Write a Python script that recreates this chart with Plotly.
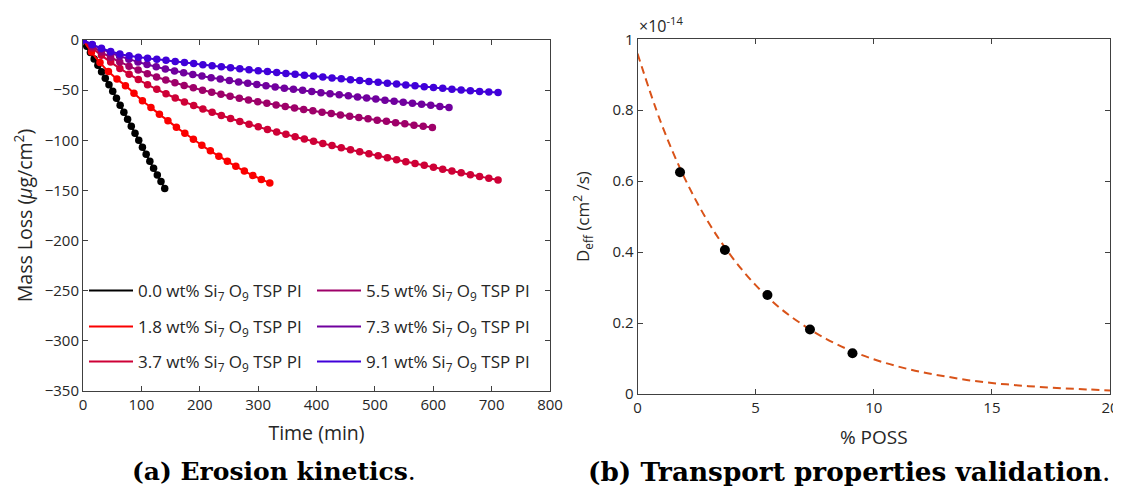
import plotly.graph_objects as go

# ---------------- data: erosion kinetics (panel a) ----------------
series_names = ["0.0", "1.8", "3.7", "5.5", "7.3", "9.1"]
series_colors = ["rgb(0,0,0)", "rgb(250,0,0)", "rgb(206,0,54)",
                 "rgb(158,0,105)", "rgb(112,0,158)", "rgb(64,0,217)"]

t_00 = [0, 6.4, 12.7, 19.1, 25.5, 31.8, 38.2, 44.5, 50.9, 57.3, 63.6, 70, 76.4, 82.7,
        89.1, 95.5, 101.8, 108.2, 114.5, 120.9, 127.3, 133.6, 140]
m_00 = [0, -6.2, -12.5, -19, -25.3, -31.7, -38.2, -44.6, -51.1, -58, -65, -72, -79, -86,
        -93, -100, -107, -114, -121, -128, -134.5, -141.2, -148]

t_18 = [0, 14.5, 29.1, 43.6, 58.2, 72.7, 87.3, 101.8, 116.4, 130.9, 145.5, 160, 174.5,
        189.1, 203.6, 218.2, 232.7, 247.3, 261.8, 276.4, 290.9, 305.5, 320]
m_18 = [0, -12, -22.5, -31.5, -39, -45.5, -53, -60.5, -67.3, -74, -80.5, -87, -93,
        -99, -105, -110.5, -115.8, -121, -126, -130.7, -135, -139, -142.5]

t_37 = [0, 15.8, 31.6, 47.4, 63.2, 79, 94.8, 110.6, 126.4, 142.2, 158, 173.8, 189.6,
        205.4, 221.2, 237, 252.8, 268.6, 284.4, 300.2, 316, 331.8, 347.6, 363.4, 379.2,
        395, 410.8, 426.6, 442.4, 458.2, 474, 489.8, 505.6, 521.4, 537.2, 553, 568.8,
        584.6, 600.4, 616.2, 632, 647.8, 663.6, 679.4, 695.2, 711]
m_37 = [0, -7.9, -15.3, -22.0, -28.3, -34.1, -39.5, -44.5, -49.2, -53.6, -57.8, -61.7,
        -65.3, -68.8, -72.1, -75.3, -78.3, -81.2, -84.0, -86.6, -89.2, -91.7, -94.1,
        -96.5, -98.8, -101.0, -103.2, -105.3, -107.4, -109.5, -111.5, -113.5, -115.5,
        -117.4, -119.4, -121.3, -123.2, -125.0, -126.9, -128.8, -130.6, -132.4, -134.3,
        -136.1, -137.9, -139.7]

t_55 = [0, 15.8, 31.5, 47.3, 63, 78.8, 94.5, 110.3, 126, 141.8, 157.5, 173.3, 189,
        204.8, 220.5, 236.3, 252, 267.8, 283.5, 299.3, 315, 330.8, 346.5, 362.3, 378,
        393.8, 409.5, 425.3, 441, 456.8, 472.5, 488.3, 504, 519.8, 535.5, 551.3, 567,
        582.8, 598.5]
m_55 = [0, -6.3, -12.0, -17.2, -21.9, -26.1, -30.0, -33.6, -36.9, -39.9, -42.7, -45.3,
        -47.7, -50.0, -52.2, -54.2, -56.2, -58.0, -59.8, -61.5, -63.1, -64.7, -66.2,
        -67.7, -69.2, -70.6, -72.0, -73.3, -74.7, -76.0, -77.3, -78.6, -79.9, -81.1,
        -82.4, -83.6, -84.9, -86.1, -87.3]

t_73 = [0, 15.7, 31.4, 47.0, 62.7, 78.4, 94.1, 109.7, 125.4, 141.1, 156.8, 172.4,
        188.1, 203.8, 219.5, 235.1, 250.8, 266.5, 282.2, 297.8, 313.5, 329.2, 344.9,
        360.5, 376.2, 391.9, 407.6, 423.2, 438.9, 454.6, 470.3, 485.9, 501.6, 517.3,
        533, 548.6, 564.3, 580, 595.7, 611.3, 627]
m_73 = [0, -4.7, -8.9, -12.7, -16.1, -19.1, -21.9, -24.4, -26.7, -28.9, -30.8, -32.7,
        -34.4, -36.0, -37.6, -39.0, -40.4, -41.8, -43.1, -44.4, -45.6, -46.8, -48.0,
        -49.1, -50.2, -51.4, -52.5, -53.6, -54.6, -55.7, -56.8, -57.8, -58.9, -60.0,
        -61.0, -62.0, -63.1, -64.1, -65.1, -66.2, -67.2]

t_91 = [0, 15.8, 31.6, 47.4, 63.2, 79, 94.8, 110.6, 126.4, 142.2, 158, 173.8, 189.6,
        205.4, 221.2, 237, 252.8, 268.6, 284.4, 300.2, 316, 331.8, 347.6, 363.4, 379.2,
        395, 410.8, 426.6, 442.4, 458.2, 474, 489.8, 505.6, 521.4, 537.2, 553, 568.8,
        584.6, 600.4, 616.2, 632, 647.8, 663.6, 679.4, 695.2, 711]
m_91 = [0, -4.6, -8.2, -11.5, -14, -15.8, -17.1, -18.2, -19.3, -20.3, -21.4, -22.5,
        -23.5, -24.6, -25.7, -26.7, -27.7, -28.7, -29.7, -30.6, -31.5, -32.4, -33.3,
        -34.2, -35.1, -36, -36.9, -37.8, -38.7, -39.6, -40.4, -41.3, -42.2, -43.1,
        -43.9, -44.8, -45.7, -46.5, -47.3, -48.2, -49, -49.8, -50.6, -51.3, -51.8, -52.3]

series_t = [t_00, t_18, t_37, t_55, t_73, t_91]
series_m = [m_00, m_18, m_37, m_55, m_73, m_91]
legend_slot = ["legend", "legend2", "legend3", "legend", "legend2", "legend3"]

# ---------------- data: transport properties (panel b) ----------------
poss_pct = [1.8, 3.7, 5.5, 7.3, 9.1]
deff_e14 = [0.625, 0.406, 0.279, 0.182, 0.115]          # x 1e-14 cm^2/s
fit_pct = [0, 1, 2, 3, 4, 5, 6, 7, 8, 9, 10, 11, 12, 13, 14, 15, 16, 17, 18, 19, 20]
fit_e14 = [0.96, 0.764, 0.608, 0.484, 0.386, 0.307, 0.244, 0.195, 0.155, 0.123, 0.098,
           0.078, 0.062, 0.050, 0.039, 0.031, 0.025, 0.020, 0.016, 0.013, 0.010]

FONT = "Open Sans"
TXT = "#262626"
AX = "#404040"

# page is rendered with an 8px body margin: work in page pixels and convert
PAGE_W, PAGE_H, OFF = 1121, 490, 8
FW, FH = PAGE_W - OFF, PAGE_H - OFF


def px(x):
    return (x - OFF) / FW


def py(y):
    return 1 - (y - OFF) / FH


fig = go.Figure()

for name, col, tt, mm, lg in zip(series_names, series_colors, series_t, series_m, legend_slot):
    fig.add_trace(go.Scatter(
        x=tt, y=mm, mode="lines", line=dict(color=col, width=2, shape="spline"),
        name=f"{name} wt% Si<sub>7</sub> O<sub>9</sub> TSP PI",
        legend=lg, xaxis="x", yaxis="y", hoverinfo="skip"))
    fig.add_trace(go.Scatter(
        x=tt, y=mm, mode="markers", marker=dict(color=col, size=7.5),
        showlegend=False, xaxis="x", yaxis="y"))

fig.add_trace(go.Scatter(
    x=fit_pct, y=fit_e14, mode="lines",
    line=dict(color="#D95319", width=2, dash="8px,5px", shape="spline"),
    showlegend=False, xaxis="x2", yaxis="y2"))
fig.add_trace(go.Scatter(
    x=poss_pct, y=deff_e14, mode="markers",
    marker=dict(color="black", size=10), showlegend=False, xaxis="x2", yaxis="y2"))

axis_common = dict(showgrid=False, zeroline=False, showline=True, linecolor=AX,
                   linewidth=1, mirror="ticks", ticks="inside", ticklen=5,
                   tickcolor=AX, automargin=False,
                   tickfont=dict(family=FONT, size=15, color=TXT))

fig.update_layout(
    width=FW, height=FH, margin=dict(l=0, r=0, t=0, b=0, autoexpand=False),
    paper_bgcolor="white", plot_bgcolor="white",
    xaxis=dict(domain=[px(83), px(550)], range=[0, 800], dtick=100, anchor="y",
               title=dict(text="Time (min)", font=dict(family=FONT, size=19.5, color=TXT),
                          standoff=13), **axis_common),
    yaxis=dict(domain=[py(391), py(40)], range=[-350, 0], dtick=50, anchor="x",
               title=dict(text="Mass Loss (<i>μ</i>g/cm<sup>2</sup>)",
                          font=dict(family=FONT, size=19.5, color=TXT), standoff=6),
               **axis_common),
    xaxis2=dict(domain=[px(637.5), px(1110)], range=[0, 20], dtick=5, anchor="y2",
                title=dict(text="% POSS", font=dict(family=FONT, size=19, color=TXT),
                           standoff=14), **axis_common),
    yaxis2=dict(domain=[py(394), py(39.3)], range=[0, 1], dtick=0.2, anchor="x2",
                title=dict(text="D<sub>eff</sub> (cm<sup>2</sup> /s)",
                           font=dict(family=FONT, size=17, color=TXT), standoff=18),
                **axis_common),
    showlegend=True,
)

leg_common = dict(orientation="h", xanchor="left", yanchor="middle",
                  bgcolor="rgba(0,0,0,0)", borderwidth=0, entrywidth=169,
                  entrywidthmode="pixels", itemwidth=44,
                  font=dict(family=FONT, size=17, color=TXT))
fig.update_layout(
    legend=dict(x=px(84), y=py(291), **leg_common),
    legend2=dict(x=px(84), y=py(327), **leg_common),
    legend3=dict(x=px(84), y=py(362), **leg_common),
)

fig.add_annotation(text="×10<sup>-14</sup>", xref="paper", yref="paper",
                   x=px(637), y=py(25), xanchor="left", yanchor="middle",
                   showarrow=False, font=dict(family=FONT, size=16, color=TXT))
fig.add_annotation(text="<b>(a) Erosion kinetics</b>.", xref="paper", yref="paper",
                   x=px(274), y=py(471), xanchor="center", yanchor="middle",
                   showarrow=False, font=dict(family="DejaVu Serif", size=25, color="black"))
fig.add_annotation(text="<b>(b) Transport properties validation</b>.", xref="paper",
                   yref="paper", x=px(849), y=py(471), xanchor="center",
                   yanchor="middle", showarrow=False,
                   font=dict(family="DejaVu Serif", size=26.3, color="black"))

fig.write_html("out.html")
